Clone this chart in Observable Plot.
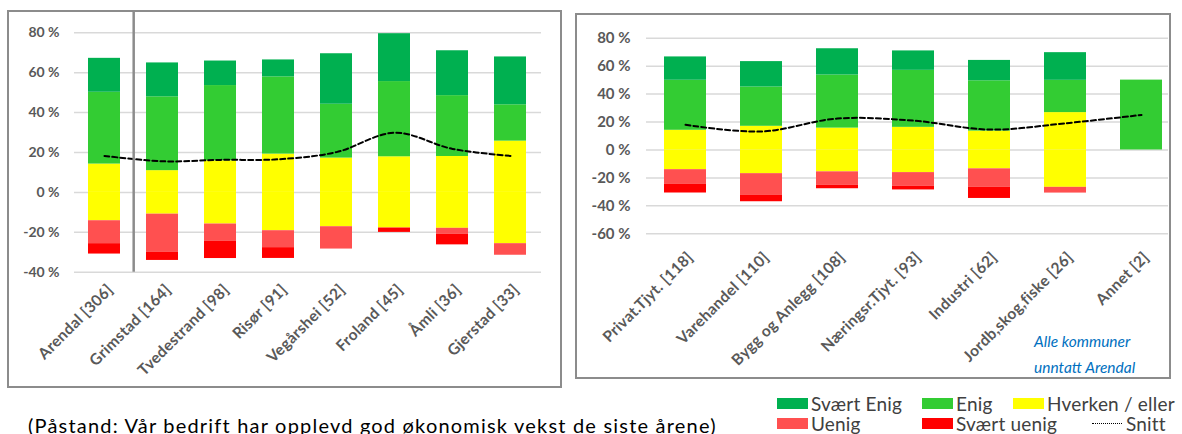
<!DOCTYPE html>
<html><head><meta charset="utf-8">
<script src="https://cdn.jsdelivr.net/npm/d3@7"></script>
<script src="https://cdn.jsdelivr.net/npm/@observablehq/plot@0.6"></script>
<style>
html,body{margin:0;padding:0;background:#fff;width:1182px;height:434px;overflow:hidden;font-family:Lato,"Open Sans",sans-serif;}
.frame{position:absolute;border:2px solid #8c8c8c;box-sizing:border-box;}
.abs{position:absolute;}
.sw{position:absolute;width:31px;height:11px;}
.lt{position:absolute;font-size:19px;letter-spacing:0.2px;color:#404040;line-height:16px;white-space:nowrap;}
svg [aria-label="x-axis tick label"]{letter-spacing:0.3px;}
</style></head><body>
<div class="frame" style="left:7px;top:10px;width:555px;height:378px"></div>
<div class="frame" style="left:575px;top:13px;width:596px;height:366px"></div>
<div id="left" class="abs" style="left:8px;top:11px"></div>
<div id="right" class="abs" style="left:576px;top:14px"></div>
<div class="abs" style="left:1034px;top:328px;font-size:15.5px;font-style:italic;color:#0070C0;line-height:26px;white-space:nowrap">Alle kommuner<br>unntatt Arendal</div>
<div class="abs" style="left:28px;top:415px;font-size:20px;letter-spacing:1.2px;color:#000;white-space:nowrap;line-height:1">(Påstand: Vår bedrift har opplevd god økonomisk vekst de siste årene)</div>
<div id="legend"></div>
<script>
// ---- Data: kommuner (venstre diagram) ----
const kommuner = ["Arendal [306]", "Grimstad [164]", "Tvedestrand [98]", "Risør [91]", "Vegårshei [52]", "Froland [45]", "Åmli [36]", "Gjerstad [33]"];
const kSvaertEnig   = [17, 17, 12.3, 8.5, 25.3, 24, 22.5, 24];
const kEnig         = [36, 37, 37.7, 38.7, 27, 37.7, 30.5, 18.2];
const kHverken      = [28.4, 21.8, 31.7, 38.4, 34.4, 35.7, 36, 51.4];
const kUenig        = [11.5, 19, 8.7, 8.5, 11.2, 0, 3, 5.8];
const kSvaertUenig  = [5.2, 4.2, 8.6, 5.4, 0, 2.2, 5.3, 0];
const kSnitt        = [18.3, 15.6, 16.3, 16.6, 20.2, 29.9, 21.8, 18.3];

// ---- Data: bransjer (høyre diagram) ----
const bransjer = ["Privat.Tjyt. [118]", "Varehandel [110]", "Bygg og Anlegg [108]", "Næringsr.Tjyt. [93]", "Industri [62]", "Jordb,skog,fiske [26]", "Annet [2]"];
const bSvaertEnig   = [16.7, 18.2, 18.8, 13.9, 14.6, 19.8, 0];
const bEnig         = [35.8, 28.1, 38, 40.8, 36, 23.1, 50];
const bHverken      = [28.2, 33.9, 31.3, 32.4, 27, 53.5, 0];
const bUenig        = [10.3, 15.3, 9.5, 9.8, 13.1, 4.1, 0];
const bSvaertUenig  = [6.4, 4.8, 2.6, 2.6, 8.1, 0, 0];
const bSnitt        = [18.0, 13.2, 22.5, 21.0, 14.6, 19.1, 25.1];

const leftTicks = [80, 60, 40, 20, 0, -20, -40];
const rightTicks = [80, 60, 40, 20, 0, -20, -40, -60];

const colors = {"Svært Enig": "#00B050", "Enig": "#33CC33", "Hverken / eller": "#FFFF00", "Uenig": "#FF5050", "Svært uenig": "#FF0000"};

function rows(cats, se, e, h, u, su) {
  const out = [];
  cats.forEach((c, i) => {
    out.push({c, k: "Hverken / eller", v: h[i] / 2});
    out.push({c, k: "Enig", v: e[i]});
    out.push({c, k: "Svært Enig", v: se[i]});
    out.push({c, k: "Hverken / eller", v: -h[i] / 2});
    out.push({c, k: "Uenig", v: -u[i]});
    out.push({c, k: "Svært uenig", v: -su[i]});
  });
  return out;
}

function chart({cats, data, snitt, ticks, width, height, mt, mb, ml, mr, xrange, pi, po, fs, pad, lpad, ldx, sep}) {
  const n = cats.length;
  const r0 = xrange ? xrange[0] : ml, r1 = xrange ? xrange[1] : width - mr;
  const step = (r1 - r0) / (n - pi + 2 * po);
  const marks = [
    Plot.gridY(ticks, {stroke: "#d9d9d9", strokeOpacity: 1, strokeWidth: 1.5}),
    Plot.barY(data, {x: "c", y: "v", fill: d => colors[d.k]}),
    Plot.line(cats.map((c, i) => ({c, s: snitt[i]})), {x: "c", y: "s", stroke: "#000", strokeWidth: 2, strokeDasharray: "5,3", curve: "catmull-rom"}),
    Plot.axisY({ticks, tickFormat: d => d + " %", tickSize: 0, tickPadding: pad, fontSize: fs, fontWeight: "bold", fill: "#595959", label: null}),
    Plot.axisX({tickRotate: -45, tickSize: 0, tickPadding: lpad, dx: ldx, fontSize: 15.5, fontWeight: "bold", fill: "#595959", label: null})
  ];
  if (sep) marks.push(Plot.ruleX([cats[0]], {dx: step / 2, stroke: "#8c8c8c", strokeWidth: 2.5, insetTop: -mt}));
  return Plot.plot({
    width, height, marginTop: mt, marginBottom: mb, marginLeft: ml, marginRight: mr,
    style: {fontFamily: "Lato, 'Open Sans', sans-serif", fontSize: "13px", fontWeight: "bold", background: "transparent", overflow: "visible"},
    x: {domain: cats, paddingInner: pi, paddingOuter: po, align: 0.5, ...(xrange ? {range: xrange} : {}), axis: null},
    y: {domain: [ticks[ticks.length - 1], ticks[0]], axis: null},
    marks
  });
}

document.getElementById("left").append(chart({
  cats: kommuner, data: rows(kommuner, kSvaertEnig, kEnig, kHverken, kUenig, kSvaertUenig), snitt: kSnitt,
  ticks: leftTicks, width: 553, height: 376, mt: 21.3, mb: 115.3, ml: 66, mr: 20, pi: 0.44, po: 0.22, fs: 14, pad: 15, lpad: 15, ldx: 6, sep: true
}));
document.getElementById("right").append(chart({
  cats: bransjer, data: rows(bransjer, bSvaertEnig, bEnig, bHverken, bUenig, bSvaertUenig), snitt: bSnitt,
  ticks: rightTicks, width: 594, height: 362, mt: 23.7, mb: 142.7, ml: 70, mr: 2, xrange: [71, 603], pi: 0.45, po: 0.225, fs: 15, pad: 16, lpad: 21, ldx: 5, sep: false
}));

// ---- Legend ----
const legendItems = [
  {name: "Svært Enig", x: 777, y: 398},
  {name: "Enig", x: 922, y: 398},
  {name: "Hverken / eller", x: 1013, y: 398},
  {name: "Uenig", x: 777, y: 418},
  {name: "Svært uenig", x: 922, y: 418}
];
const lg = document.getElementById("legend");
legendItems.forEach(it => {
  const s = document.createElement("div");
  s.className = "sw"; s.style.left = it.x + "px"; s.style.top = it.y + "px"; s.style.background = colors[it.name];
  lg.append(s);
  const t = document.createElement("div");
  t.className = "lt"; t.style.left = (it.x + 34) + "px"; t.style.top = (it.y - 2) + "px"; t.textContent = it.name;
  lg.append(t);
});
const dl = document.createElement("div");
dl.className = "abs"; dl.style.cssText = "left:1092px;top:423px;width:30px;border-top:1px dotted #000;position:absolute";
lg.append(dl);
const st = document.createElement("div");
st.className = "lt"; st.style.left = "1126px"; st.style.top = "416px"; st.textContent = "Snitt";
lg.append(st);
</script>
</body></html>
